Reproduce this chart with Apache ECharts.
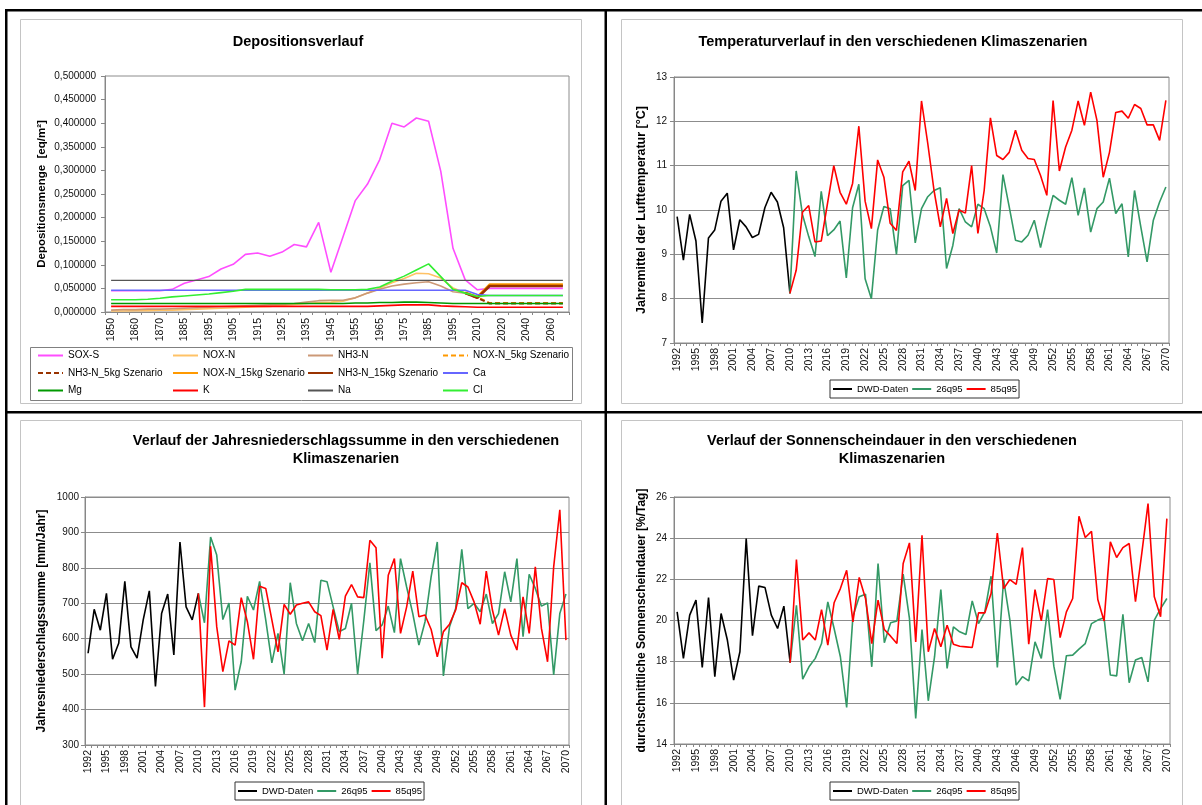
<!DOCTYPE html>
<html>
<head>
<meta charset="utf-8">
<title>Deposition und Klimaszenarien</title>
<script src="https://cdn.jsdelivr.net/npm/echarts/dist/echarts.min.js"></script>
<style>
  html, body { margin: 0; padding: 0; background: #ffffff; }
  #chart { width: 1202px; height: 805px; }
</style>
</head>
<body>
<div id="chart"></div>
<script>
// ---------- Depositionsverlauf ----------
const depoYears = ['1850','1855','1860','1865','1870','1880','1885','1890','1895','1900',
  '1905','1910','1915','1920','1925','1930','1935','1940','1945','1950',
  '1955','1960','1965','1970','1975','1980','1985','1990','1995','2000',
  '2010','2015','2020','2030','2040','2050','2060','2070'];

const soxS = [0.045,0.045,0.045,0.045,0.045,0.048,0.061,0.068,0.075,0.091,
  0.101,0.122,0.125,0.118,0.127,0.143,0.138,0.190,0.084,0.160,
  0.236,0.271,0.323,0.400,0.392,0.411,0.404,0.298,0.135,0.068,
  0.047,0.050,0.050,0.050,0.050,0.050,0.050,0.050];
const noxN = [0.002,0.002,0.003,0.003,0.004,0.004,0.005,0.006,0.007,0.008,
  0.009,0.010,0.011,0.012,0.014,0.016,0.018,0.020,0.021,0.023,
  0.030,0.040,0.051,0.062,0.071,0.082,0.081,0.072,0.051,0.041,
  0.032,null,null,null,null,null,null,null];
const nh3N = [0.004,0.005,0.005,0.006,0.006,0.007,0.008,0.009,0.010,0.011,
  0.012,0.013,0.014,0.015,0.016,0.018,0.021,0.024,0.025,0.025,
  0.030,0.040,0.048,0.055,0.059,0.062,0.064,0.055,0.043,0.040,
  0.030,null,null,null,null,null,null,null];
const noxN5kg = [null,null,null,null,null,null,null,null,null,null,
  null,null,null,null,null,null,null,null,null,null,
  null,null,null,null,null,null,null,null,null,0.041,
  0.032,0.019,0.019,0.019,0.019,0.019,0.019,0.019];
const nh3N5kg = [null,null,null,null,null,null,null,null,null,null,
  null,null,null,null,null,null,null,null,null,null,
  null,null,null,null,null,null,null,null,null,0.040,
  0.030,0.018,0.018,0.018,0.018,0.018,0.018,0.018];
const noxN15kg = [null,null,null,null,null,null,null,null,null,null,
  null,null,null,null,null,null,null,null,null,null,
  null,null,null,null,null,null,null,null,null,0.041,
  0.032,0.058,0.058,0.058,0.058,0.058,0.058,0.058];
const nh3N15kg = [null,null,null,null,null,null,null,null,null,null,
  null,null,null,null,null,null,null,null,null,null,
  null,null,null,null,null,null,null,null,null,0.040,
  0.030,0.055,0.055,0.055,0.055,0.055,0.055,0.055];
const ca = [0.046,0.046,0.046,0.046,0.046,0.046,0.046,0.046,0.046,0.046,
  0.046,0.046,0.046,0.046,0.046,0.046,0.046,0.046,0.046,0.046,
  0.046,0.046,0.046,0.046,0.046,0.046,0.046,0.046,0.046,0.046,
  0.037,0.035,0.035,0.035,0.035,0.035,0.035,0.035];
const mg = [0.018,0.018,0.018,0.018,0.018,0.018,0.018,0.018,0.018,0.018,
  0.018,0.018,0.018,0.018,0.018,0.018,0.018,0.018,0.018,0.018,
  0.019,0.019,0.020,0.020,0.021,0.021,0.020,0.019,0.018,0.018,
  0.018,0.018,0.018,0.018,0.018,0.018,0.018,0.018];
const k = [0.012,0.012,0.012,0.012,0.012,0.012,0.012,0.012,0.012,0.012,
  0.012,0.012,0.012,0.012,0.012,0.012,0.012,0.012,0.012,0.012,
  0.012,0.012,0.013,0.014,0.015,0.015,0.015,0.013,0.012,0.011,
  0.010,0.010,0.010,0.010,0.010,0.010,0.010,0.010];
const na = [0.067,0.067,0.067,0.067,0.067,0.067,0.067,0.067,0.067,0.067,
  0.067,0.067,0.067,0.067,0.067,0.067,0.067,0.067,0.067,0.067,
  0.067,0.067,0.067,0.067,0.067,0.067,0.067,0.067,0.067,0.067,
  0.067,0.067,0.067,0.067,0.067,0.067,0.067,0.067];
const cl = [0.026,0.026,0.026,0.027,0.029,0.032,0.034,0.036,0.038,0.041,
  0.044,0.048,0.048,0.048,0.048,0.048,0.048,0.048,0.047,0.047,
  0.047,0.048,0.053,0.065,0.076,0.089,0.102,0.075,0.048,0.040,
  0.033,0.035,0.035,0.035,0.035,0.035,0.035,0.035];

// ---------- Klimaszenarien (1992 - 2070) ----------
const climateYears = ['1992','1993','1994','1995','1996','1997','1998','1999','2000','2001',
  '2002','2003','2004','2005','2006','2007','2008','2009','2010','2011',
  '2012','2013','2014','2015','2016','2017','2018','2019','2020','2021',
  '2022','2023','2024','2025','2026','2027','2028','2029','2030','2031',
  '2032','2033','2034','2035','2036','2037','2038','2039','2040','2041',
  '2042','2043','2044','2045','2046','2047','2048','2049','2050','2051',
  '2052','2053','2054','2055','2056','2057','2058','2059','2060','2061',
  '2062','2063','2064','2065','2066','2067','2068','2069','2070'];

// observed 1992-2010
const tempDwd = [9.85,8.87,9.90,9.30,7.45,9.37,9.55,10.20,10.38,9.10,
  9.78,9.62,9.38,9.45,10.05,10.40,10.18,9.60,8.12];
// scenarios 2010-2070
const temp26q95 = [8.12,10.88,9.90,9.40,8.95,10.42,9.42,9.55,9.75,8.47,
  10.05,10.58,8.45,8.00,9.55,10.08,10.03,9.00,10.55,10.67,
  9.26,10.03,10.30,10.44,10.50,8.68,9.20,10.03,9.73,9.62,
  10.13,10.03,9.62,9.03,10.80,10.07,9.32,9.28,9.43,9.77,
  9.15,9.77,10.33,10.22,10.13,10.73,9.88,10.50,9.50,10.03,
  10.18,10.72,9.92,10.14,8.94,10.44,9.62,8.83,9.77,10.18,10.52];
const temp85q95 = [8.12,8.64,9.95,10.10,9.28,9.30,10.15,11.00,10.40,10.13,
  10.60,11.89,10.20,9.58,11.13,10.74,9.70,9.54,10.86,11.10,
  10.44,12.46,11.50,10.44,9.62,10.26,9.47,10.00,9.93,11.00,
  9.47,10.44,12.08,11.23,11.14,11.30,11.80,11.35,11.16,11.14,
  10.78,10.33,12.47,10.88,11.42,11.80,12.46,11.91,12.66,12.02,
  10.74,11.30,12.20,12.23,12.07,12.38,12.29,11.92,11.92,11.57,12.47];

const precipDwd = [559,683,624,728,542,587,762,577,545,653,
  735,465,671,726,554,873,690,653,728];
const precip26q95 = [728,645,887,836,654,701,455,535,720,681,
  762,653,532,615,500,758,643,594,643,589,
  765,761,690,620,629,700,500,650,814,623,
  639,692,617,826,746,671,582,648,775,873,
  495,634,685,852,685,700,676,726,643,671,
  789,704,826,606,782,742,692,701,498,671,726];
const precip85q95 = [728,407,861,634,507,594,582,716,648,542,
  748,742,653,563,697,669,695,700,704,676,
  665,568,683,598,720,753,718,716,878,857,
  545,779,826,615,690,791,662,667,626,549,
  620,641,681,758,746,704,641,791,681,610,
  685,610,568,718,615,803,629,535,803,964,596];

const sunDwd = [20.42,18.16,20.26,20.99,17.72,21.12,17.27,20.34,19.05,17.10,
  18.48,23.98,19.26,21.67,21.60,20.26,19.61,20.70,17.95];
const sun26q95 = [17.95,20.74,17.15,17.75,18.16,18.88,20.90,19.61,18.24,15.78,
  20.21,21.15,21.28,17.75,22.77,18.92,19.89,19.98,22.25,20.10,
  15.24,19.56,16.10,18.24,21.50,17.67,19.69,19.45,19.32,20.95,
  19.85,20.42,22.15,17.72,21.99,20.02,16.86,17.27,17.07,18.96,
  18.16,20.53,17.78,16.17,18.29,18.32,18.61,18.88,19.85,20.02,
  20.13,17.35,17.31,20.30,16.98,18.08,18.20,17.02,20.02,20.58,21.07];
const sun85q95 = [17.95,22.96,19.05,19.40,19.05,20.53,18.80,20.86,21.55,22.44,
  19.93,22.09,21.07,18.88,20.99,19.56,19.24,18.88,22.77,23.77,
  18.96,24.14,18.48,19.61,18.72,19.77,18.85,18.75,18.72,18.69,
  20.37,20.37,21.31,24.25,21.55,21.99,21.76,23.54,18.85,21.50,
  19.98,22.04,21.99,19.17,20.42,21.07,25.06,24.03,24.33,21.02,
  19.98,23.82,23.06,23.54,23.74,20.91,23.25,25.68,21.15,20.18,24.95];

// ---------- helpers ----------
const FONT = '"Liberation Sans", Arial, Helvetica, sans-serif';
const AXIS_GRAY = '#878787';
const GRID_GRAY = '#8c8c8c';
const SCEN_NAMES = ['DWD-Daten', '26q95', '85q95'];
const SCEN_COLORS = ['#000000', '#339966', '#ff0000'];

// place an observed series at the start, scenario series from 2010 onward
function observed(values) {
  return values.concat(new Array(climateYears.length - values.length).fill(null));
}
function scenario(values) {
  return new Array(climateYears.length - values.length).fill(null).concat(values);
}

function gridBox(left, top, width, height) {
  return { left, top, width, height, show: true, borderColor: GRID_GRAY, borderWidth: 1,
           backgroundColor: 'transparent', containLabel: false, outerBoundsMode: 'none' };
}

function categoryAxis(gridIndex, data, labelInterval, margin) {
  return {
    type: 'category', gridIndex, data, boundaryGap: true,
    axisLine: { show: true, lineStyle: { color: AXIS_GRAY, width: 1 } },
    axisTick: { show: true, interval: 0, length: 3, lineStyle: { color: AXIS_GRAY } },
    axisLabel: { interval: labelInterval, rotate: 90, fontSize: 10.5, color: '#111',
                 margin, fontFamily: FONT },
    splitLine: { show: false }
  };
}

function valueAxis(gridIndex, min, max, interval, name, nameGap, nameSize, margin, grid, fmt) {
  return {
    type: 'value', gridIndex, min, max, interval,
    axisLine: { show: true, lineStyle: { color: AXIS_GRAY, width: 1 } },
    axisTick: { show: true, length: 4, lineStyle: { color: AXIS_GRAY } },
    axisLabel: { fontSize: 10, color: '#111', margin, fontFamily: FONT,
                 formatter: fmt || (v => String(v)) },
    splitLine: { show: grid, lineStyle: { color: GRID_GRAY, width: 1 } },
    name, nameLocation: 'middle', nameRotate: 90, nameGap,
    nameTextStyle: { fontSize: nameSize, fontWeight: 'bold', color: '#000', fontFamily: FONT }
  };
}

function lineSeries(name, data, color, axisIndex, extra) {
  const e = extra || {};
  return {
    type: 'line', name, data, xAxisIndex: axisIndex, yAxisIndex: axisIndex,
    symbol: 'none', showSymbol: false, connectNulls: false, animation: false,
    color,
    lineStyle: { color, width: e.width || 1.6, type: e.dash ? [5, 3] : 'solid' },
    emphasis: { disabled: true }
  };
}

// ---------- series ----------
const depoSeries = [
  lineSeries('SOX-S', soxS, '#ff4dff', 0),
  lineSeries('NOX-N', noxN, '#ffc266', 0),
  lineSeries('NH3-N', nh3N, '#cc9977', 0),
  lineSeries('NOX-N_5kg Szenario', noxN5kg, '#ff9900', 0, { dash: true, width: 2 }),
  lineSeries('NH3-N_5kg Szenario', nh3N5kg, '#993300', 0, { dash: true, width: 2 }),
  lineSeries('NOX-N_15kg Szenario', noxN15kg, '#ff9900', 0, { width: 2.6 }),
  lineSeries('NH3-N_15kg Szenario', nh3N15kg, '#993300', 0, { width: 2.6 }),
  lineSeries('Ca', ca, '#6666ff', 0),
  lineSeries('Mg', mg, '#009900', 0),
  lineSeries('K', k, '#ff0000', 0),
  lineSeries('Na', na, '#555555', 0, { width: 1.2 }),
  lineSeries('Cl', cl, '#33ee33', 0)
];

function climateSeries(axisIndex, dwd, s26, s85) {
  return [
    lineSeries(SCEN_NAMES[0], observed(dwd), SCEN_COLORS[0], axisIndex),
    lineSeries(SCEN_NAMES[1], scenario(s26), SCEN_COLORS[1], axisIndex),
    lineSeries(SCEN_NAMES[2], scenario(s85), SCEN_COLORS[2], axisIndex)
  ];
}

// ---------- legends (line samples only, no marker) ----------
const depoLegendCols = [
  ['SOX-S', 'NH3-N_5kg Szenario', 'Mg'],
  ['NOX-N', 'NOX-N_15kg Szenario', 'K'],
  ['NH3-N', 'NH3-N_15kg Szenario', 'Na'],
  ['NOX-N_5kg Szenario', 'Ca', 'Cl']
];
const depoLegendX = [37, 172, 307, 442];

const legends = depoLegendCols.map((names, i) => ({
  data: names, orient: 'vertical', left: depoLegendX[i], top: 350,
  padding: 0, itemWidth: 25, itemHeight: 10, itemGap: 6.5,
  itemStyle: { opacity: 0 },
  textStyle: { fontSize: 10, color: '#000', fontFamily: FONT, lineHeight: 11 },
  selectedMode: false
}));

function scenarioLegend(left, top) {
  return {
    data: SCEN_NAMES, orient: 'horizontal', left, top,
    padding: [4, 2, 4, 2], itemWidth: 19, itemHeight: 10, itemGap: 3,
    itemStyle: { opacity: 0 },
    borderColor: '#333333', borderWidth: 1, backgroundColor: '#ffffff',
    textStyle: { fontSize: 9.5, color: '#000', fontFamily: FONT },
    selectedMode: false
  };
}
legends.push(scenarioLegend(830, 380));
legends.push(scenarioLegend(235, 782));
legends.push(scenarioLegend(830, 782));

// ---------- page frame, panel frames and titles ----------
function bar(x, y, w, h) {
  return { type: 'rect', shape: { x, y, width: w, height: h }, style: { fill: '#000' }, silent: true, z: 100 };
}
function frame(x, y, w, h, color) {
  return { type: 'rect', shape: { x, y, width: w, height: h },
           style: { fill: 'none', stroke: color, lineWidth: 1 }, silent: true, z: 90 };
}
function title(text, x, y) {
  return { type: 'text', x, y, silent: true, z: 100,
           style: { text, fill: '#000', font: 'bold 14.5px ' + FONT, lineHeight: 17.5,
                    align: 'center', verticalAlign: 'middle',
                    textAlign: 'center', textVerticalAlign: 'middle' } };
}

const graphics = [
  bar(5, 9, 1197, 2.5),
  bar(5, 9, 2.5, 796),
  bar(604.5, 9, 2.5, 796),
  bar(5, 411, 1197, 2.5),
  frame(20.5, 19.5, 561, 384, '#c4c4c4'),
  frame(621.5, 19.5, 561, 384, '#c4c4c4'),
  frame(20.5, 420.5, 561, 400, '#c4c4c4'),
  frame(621.5, 420.5, 561, 400, '#c4c4c4'),
  frame(30.5, 347.5, 542, 53, '#808080'),
  title('Depositionsverlauf', 298, 42),
  title('Temperaturverlauf in den verschiedenen Klimaszenarien', 893, 42),
  title('Verlauf der Jahresniederschlagssumme in den verschiedenen\nKlimaszenarien', 346, 450),
  title('Verlauf der Sonnenscheindauer in den verschiedenen\nKlimaszenarien', 892, 450)
];

// ---------- option ----------
const option = {
  animation: false,
  backgroundColor: '#ffffff',
  textStyle: { fontFamily: FONT },
  grid: [
    gridBox(105, 76, 464, 236),
    gridBox(674, 77, 495, 266),
    gridBox(85, 497, 484, 248),
    gridBox(674, 497, 496, 247)
  ],
  xAxis: [
    categoryAxis(0, depoYears, 1, 6),
    categoryAxis(1, climateYears, 2, 5),
    categoryAxis(2, climateYears, 2, 5),
    categoryAxis(3, climateYears, 2, 5)
  ],
  yAxis: [
    valueAxis(0, 0, 0.5, 0.05, 'Depositionsmenge  [eq/m²]', 57, 11.5, 9, false,
              v => v.toFixed(6).replace('.', ',')),
    valueAxis(1, 7, 13, 1, 'Jahremittel der Lufttemperatur [°C]', 26, 12.5, 7, true),
    valueAxis(2, 300, 1000, 100, 'Jahresniederschlagssumme [mm/Jahr]', 37, 12, 6, true),
    valueAxis(3, 14, 26, 2, 'durchschnittliche Sonnenscheindauer [%/Tag]', 26, 12, 7, true)
  ],
  legend: legends,
  series: [].concat(
    depoSeries,
    climateSeries(1, tempDwd, temp26q95, temp85q95),
    climateSeries(2, precipDwd, precip26q95, precip85q95),
    climateSeries(3, sunDwd, sun26q95, sun85q95)
  ),
  graphic: { elements: graphics }
};

const chart = echarts.init(document.getElementById('chart'), null, { renderer: 'canvas' });
chart.setOption(option);
</script>
</body>
</html>
